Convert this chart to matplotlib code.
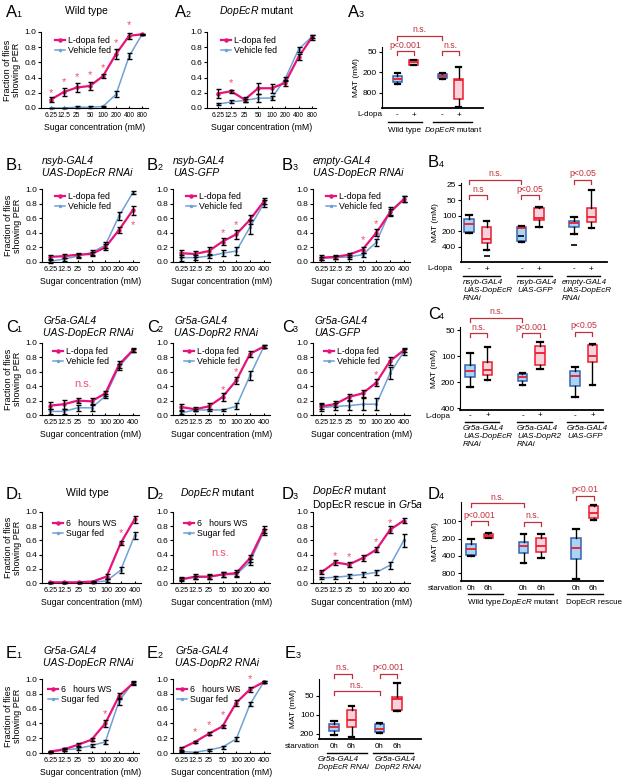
import numpy as np
import matplotlib
matplotlib.use("Agg")
import matplotlib.pyplot as plt
from matplotlib.transforms import Affine2D, blended_transform_factory
from matplotlib.ticker import NullLocator

plt.rcParams['font.family'] = ['Liberation Sans', 'DejaVu Sans']
plt.rcParams['mathtext.fontset'] = 'custom'
plt.rcParams['mathtext.rm'] = 'Liberation Sans'
plt.rcParams['mathtext.it'] = 'Liberation Sans:italic'

W, H = 626, 782
PINK = '#e8137a'
BLUE = '#6fa1d6'
STAR = '#f0506e'
ANN = '#c0303f'
BFILL, BEDGE = '#a9d4f3', '#3563b5'
RFILL, REDGE = '#f8d2dc', '#ec1c2c'

conc8 = ['6.25', '12.5', '25', '50', '100', '200', '400', '800']
conc7 = conc8[:7]
lab_ld = ['L-dopa fed', 'Vehicle fed']
lab_ws = ['6   hours WS', 'Sugar fed']

# ---- PER curves (mean, sem) ----
a1_p = [0.11, 0.21, 0.27, 0.29, 0.42, 0.71, 0.95, 0.97]
a1_pe = [0.03, 0.05, 0.06, 0.05, 0.03, 0.06, 0.04, 0.01]
a1_b = [0.00, 0.00, 0.01, 0.01, 0.02, 0.18, 0.68, 0.97]
a1_be = [0.00, 0.00, 0.01, 0.01, 0.01, 0.04, 0.04, 0.01]
a1_st = [(0, 0.20), (1, 0.34), (2, 0.41), (3, 0.43), (4, 0.53), (5, 0.86), (6, 1.09)]

a2_p = [0.19, 0.22, 0.11, 0.26, 0.26, 0.33, 0.67, 0.93]
a2_pe = [0.06, 0.02, 0.03, 0.07, 0.06, 0.04, 0.04, 0.03]
a2_b = [0.05, 0.08, 0.10, 0.13, 0.13, 0.38, 0.77, 0.94]
a2_be = [0.01, 0.02, 0.02, 0.05, 0.03, 0.03, 0.03, 0.02]
a2_st = [(1, 0.33)]

b1_p = [0.07, 0.08, 0.10, 0.11, 0.20, 0.44, 0.71]
b1_pe = [0.03, 0.03, 0.03, 0.03, 0.04, 0.04, 0.06]
b1_b = [0.01, 0.04, 0.08, 0.13, 0.23, 0.63, 0.95]
b1_be = [0.02, 0.02, 0.03, 0.03, 0.04, 0.06, 0.02]
b1_st = [(6, 0.50)]

b2_p = [0.12, 0.11, 0.15, 0.28, 0.38, 0.58, 0.83]
b2_pe = [0.05, 0.04, 0.05, 0.05, 0.06, 0.06, 0.04]
b2_b = [0.06, 0.06, 0.08, 0.12, 0.15, 0.48, 0.80]
b2_be = [0.04, 0.03, 0.03, 0.04, 0.05, 0.10, 0.05]
b2_st = [(3, 0.40), (4, 0.50)]

b3_p = [0.06, 0.07, 0.10, 0.17, 0.40, 0.68, 0.86]
b3_pe = [0.03, 0.03, 0.03, 0.04, 0.05, 0.05, 0.04]
b3_b = [0.05, 0.06, 0.07, 0.10, 0.27, 0.70, 0.86]
b3_be = [0.02, 0.02, 0.03, 0.03, 0.05, 0.05, 0.04]
b3_st = [(3, 0.30), (4, 0.52)]

c1_p = [0.13, 0.15, 0.20, 0.19, 0.30, 0.70, 0.90]
c1_pe = [0.05, 0.06, 0.04, 0.04, 0.04, 0.05, 0.03]
c1_b = [0.05, 0.05, 0.10, 0.10, 0.26, 0.67, 0.89]
c1_be = [0.04, 0.04, 0.04, 0.04, 0.03, 0.04, 0.02]

c2_p = [0.11, 0.08, 0.12, 0.25, 0.48, 0.85, 0.95]
c2_pe = [0.04, 0.03, 0.04, 0.05, 0.05, 0.04, 0.02]
c2_b = [0.03, 0.07, 0.07, 0.07, 0.12, 0.55, 0.95]
c2_be = [0.02, 0.02, 0.02, 0.02, 0.04, 0.06, 0.02]
c2_st = [(3, 0.35), (4, 0.60)]

c3_p = [0.12, 0.15, 0.25, 0.30, 0.45, 0.75, 0.90]
c3_pe = [0.04, 0.04, 0.04, 0.05, 0.05, 0.05, 0.03]
c3_b = [0.10, 0.12, 0.13, 0.15, 0.15, 0.58, 0.88]
c3_be = [0.05, 0.05, 0.06, 0.08, 0.08, 0.08, 0.04]
c3_st = [(4, 0.55)]

d1_p = [0.01, 0.01, 0.01, 0.02, 0.09, 0.56, 0.90]
d1_pe = [0.01, 0.01, 0.01, 0.01, 0.03, 0.03, 0.05]
d1_b = [0.00, 0.00, 0.00, 0.01, 0.03, 0.18, 0.67]
d1_be = [0.00, 0.00, 0.00, 0.01, 0.02, 0.04, 0.05]
d1_st = [(5, 0.70)]

d2_p = [0.05, 0.09, 0.09, 0.12, 0.14, 0.35, 0.75]
d2_pe = [0.02, 0.03, 0.03, 0.04, 0.04, 0.05, 0.05]
d2_b = [0.06, 0.08, 0.08, 0.12, 0.12, 0.30, 0.72]
d2_be = [0.02, 0.02, 0.03, 0.03, 0.03, 0.04, 0.04]

d3_p = [0.15, 0.29, 0.26, 0.35, 0.47, 0.75, 0.88]
d3_pe = [0.03, 0.03, 0.04, 0.04, 0.04, 0.05, 0.04]
d3_b = [0.07, 0.08, 0.10, 0.12, 0.15, 0.25, 0.60]
d3_be = [0.02, 0.02, 0.03, 0.03, 0.04, 0.05, 0.09]
d3_st = [(1, 0.38), (2, 0.37), (4, 0.57), (5, 0.85)]

e1_p = [0.02, 0.05, 0.11, 0.18, 0.40, 0.77, 0.94]
e1_pe = [0.01, 0.02, 0.02, 0.02, 0.05, 0.04, 0.02]
e1_b = [0.01, 0.04, 0.06, 0.10, 0.15, 0.70, 0.95]
e1_be = [0.01, 0.01, 0.02, 0.02, 0.03, 0.05, 0.02]
e1_st = [(4, 0.53)]

e2_p = [0.06, 0.15, 0.26, 0.36, 0.68, 0.86, 0.96]
e2_pe = [0.02, 0.01, 0.02, 0.02, 0.04, 0.03, 0.01]
e2_b = [0.02, 0.01, 0.04, 0.08, 0.19, 0.66, 0.96]
e2_be = [0.01, 0.01, 0.01, 0.02, 0.03, 0.03, 0.01]
e2_st = [(1, 0.28), (2, 0.38), (3, 0.51), (4, 0.82), (5, 1.00)]

# ---- MAT box stats: whislo, q1, med, q3, whishi ----
a3_box = [[211, 254, 311, 371, 435], [84, 86, 98, 120, 122],
          [203, 221, 254, 296, 316], [135, 311, 340, 1196, 2020]]
b4_box = [[96, 116, 143, 204, 215], [124, 165, 282, 339, 460], [157, 165, 170, 305, 316],
          [66, 70, 108, 120, 161], [106, 124, 138, 161, 222], [32, 69, 103, 132, 174]]
b4_fl = [[], [598], [245], [], [365], []]
c4_box = [[92, 125, 149, 174, 226], [79, 116, 143, 166, 190], [156, 163, 176, 195, 217],
          [69, 76, 92, 125, 139], [133, 149, 170, 222, 295], [73, 75, 100, 118, 217]]
d4_box = [[206, 252, 306, 384, 400], [163, 170, 179, 195, 199], [169, 232, 270, 351, 534],
          [169, 199, 270, 346, 439], [137, 199, 295, 456, 1000], [53, 55, 72, 90, 96]]
e3_box = [[124, 140, 157, 177, 208], [71, 85, 120, 157, 221],
          [136, 139, 169, 188, 190], [31, 52, 56, 83, 88]]

fig = plt.figure(figsize=(W / 100, H / 100), dpi=100)
PIX = Affine2D().scale(1 / W, -1 / H).translate(0, 1) + fig.transFigure
FS = 5.8   # small annotation text
TFS = 7.5  # panel titles


def add_ax(l, t, r, b):
    return fig.add_axes([l / W, 1 - b / H, (r - l) / W, (b - t) / H])


def ftext(x, y, s, **kw):
    kw.setdefault('fontsize', 7)
    fig.text(x / W, 1 - y / H, s, **kw)


def hline(x0, x1, y):
    fig.add_artist(plt.Line2D([x0 / W, x1 / W], [1 - y / H, 1 - y / H], color='k', lw=1.0))


def plabel(x, y, letter, num):
    ftext(x, y, letter, fontsize=12, va='baseline')
    ftext(x + 10.5, y, num, fontsize=6.5, va='baseline')


def line_panel(rect, xt, p, pe, b, be, names=None, stars=(), ylab=False, leg=(0.1, 0.96)):
    ax = add_ax(*rect)
    x = np.arange(len(xt))
    lb, = ax.plot(x, b, color=BLUE, lw=1.1, marker='o', ms=1.5, zorder=2, clip_on=False)
    lp, = ax.plot(x, p, color=PINK, lw=1.6, marker='o', ms=2.2, zorder=3, clip_on=False)
    for y, e in ((b, be), (p, pe)):
        ax.errorbar(x, y, yerr=e, fmt='none', ecolor='k', elinewidth=1.0,
                    capsize=1.8, capthick=1.0, zorder=4, clip_on=False)
    for i, s in stars:
        ax.text(i, s, '*', color=STAR, ha='center', va='center', fontsize=8, clip_on=False)
    if names:
        ax.legend([lp, lb], names, loc='upper left', bbox_to_anchor=leg, frameon=False,
                  fontsize=6.3, handlelength=1.2, handletextpad=0.3, labelspacing=0.1,
                  borderpad=0.1, borderaxespad=0)
    ax.set_xlim(-0.6, len(xt) - 0.55)
    ax.set_ylim(0, 1)
    ax.set_xticks(x)
    ax.set_xticklabels(xt)
    ax.set_yticks(np.arange(0, 1.01, 0.2))
    ax.set_yticklabels(['%.1f' % v for v in np.arange(0, 1.01, 0.2)])
    ax.tick_params(axis='x', labelsize=4.8 if len(xt) > 7 else 5.2, length=1.5,
                   direction='in', pad=3)
    ax.tick_params(axis='y', labelsize=6, length=2, pad=1.5)
    for s in ['top', 'right']:
        ax.spines[s].set_visible(False)
    ax.set_xlabel('Sugar concentration (mM)', fontsize=6.3, labelpad=3)
    if ylab:
        ax.set_ylabel('Fraction of flies\nshowing PER', fontsize=6.5, labelpad=2, linespacing=1.1)
    return ax


def box_panel(rect, pos, stats, xlim, ylim, yticks, fliers=None):
    ax = add_ax(*rect)
    if fliers is None:
        fliers = [[] for _ in stats]
    bs = [dict(whislo=s[0], q1=s[1], med=s[2], q3=s[3], whishi=s[4], fliers=f)
          for s, f in zip(stats, fliers)]
    art = ax.bxp(bs, positions=pos, widths=0.55, patch_artist=True, capwidths=0.3,
                 medianprops=dict(color=REDGE, lw=1.3),
                 whiskerprops=dict(color='k', lw=1.0), capprops=dict(color='k', lw=1.6),
                 flierprops=dict(marker='_', markeredgecolor='k', markersize=4, mew=1.2))
    for i, patch in enumerate(art['boxes']):
        if i % 2 == 0:
            patch.set(facecolor=BFILL, edgecolor=BEDGE, lw=1.1)
        else:
            patch.set(facecolor=RFILL, edgecolor=REDGE, lw=1.1)
    ax.set_yscale('log')
    ax.set_yticks(yticks)
    ax.set_yticklabels([str(v) for v in yticks])
    ax.yaxis.set_minor_locator(NullLocator())
    ax.set_ylim(*ylim)
    ax.set_xlim(*xlim)
    ax.set_xticks([])
    for s in ['top', 'right']:
        ax.spines[s].set_visible(False)
    ax.spines['bottom'].set_linewidth(1.3)
    ax.tick_params(axis='y', labelsize=6, length=2, pad=1.5)
    ax.set_ylabel('MAT (mM)', fontsize=6, labelpad=2)
    return ax


def bracket(ax, x0, x1, y, s, dy=3.5):
    tr = blended_transform_factory(ax.transData, PIX)
    ax.plot([x0, x0, x1, x1], [y + dy, y, y, y + dy], color=ANN, lw=0.9,
            transform=tr, clip_on=False)
    ax.text((x0 + x1) / 2, y - 1.5, s, transform=tr, ha='center', va='bottom',
            color=ANN, fontsize=6.3, clip_on=False)


def under(ax, xs, y, labels):
    tr = blended_transform_factory(ax.transData, PIX)
    for x, s in zip(xs, labels):
        ax.text(x, y, s, transform=tr, ha='center', va='center', fontsize=FS)


# ================= Row A =================
plabel(6, 17, 'A', '1')
ftext(86, 11, 'Wild type', fontsize=TFS, ha='center', va='center')
ax = line_panel((41, 32, 148, 108), conc8, a1_p, a1_pe, a1_b, a1_be, lab_ld, a1_st,
                ylab=True, leg=(0.12, 0.96))
ax.set_xlim(-0.75, 7.45)

plabel(175, 17, 'A', '2')
ftext(257, 11, r'$\mathit{DopEcR}$ mutant', fontsize=TFS, ha='center', va='center')
ax = line_panel((207, 32, 316, 108), conc8, a2_p, a2_pe, a2_b, a2_be, lab_ld, a2_st,
                leg=(0.12, 0.96))
ax.set_xlim(-0.8, 7.3)

plabel(348, 17, 'A', '3')
pos = [1, 2, 3.75, 4.75]
ax = box_panel((382, 47, 483, 108), pos, a3_box, (0.06, 6.25), (2200, 36), [50, 200, 800])
bracket(ax, pos[0], pos[1], 51, 'p<0.001')
bracket(ax, pos[2], pos[3], 51, 'n.s.')
bracket(ax, pos[0], pos[2], 36, 'n.s.')
ftext(357, 115, 'L-dopa', fontsize=FS, va='center')
under(ax, pos, 115, ['-', '+', '-', '+'])
hline(388, 422, 122)
hline(433, 472, 122)
ftext(405, 130, 'Wild type', fontsize=FS, ha='center', va='center')
ftext(453, 130, r'$\mathit{DopEcR}$ mutant', fontsize=FS, ha='center', va='center')

# ================= Row B =================
col_x = [42, 173, 313]
lab_x = [6, 147, 282]
titles_b = ['nsyb-GAL4\nUAS-DopEcR RNAi', 'nsyb-GAL4\nUAS-GFP', 'empty-GAL4\nUAS-DopEcR RNAi']
for k in range(3):
    plabel(lab_x[k], 170, 'B', str(k + 1))
    ftext(col_x[k], 167, titles_b[k], fontsize=TFS, style='italic', va='center', linespacing=1.15)
line_panel((42, 189, 139, 262), conc7, b1_p, b1_pe, b1_b, b1_be, lab_ld, b1_st, ylab=True,
           leg=(0.12, 0.97))
line_panel((173, 189, 270, 262), conc7, b2_p, b2_pe, b2_b, b2_be, lab_ld, b2_st, leg=(0.12, 0.97))
line_panel((313, 189, 410, 262), conc7, b3_p, b3_pe, b3_b, b3_be, lab_ld, b3_st, leg=(0.12, 0.97))

plabel(428, 167, 'B', '4')
pos6 = [1, 2, 4, 5, 7, 8]
ax = box_panel((461, 183, 607, 262), pos6, b4_box, (0.54, 8.89), (785, 23),
               [25, 50, 100, 200, 400], b4_fl)
bracket(ax, pos6[0], pos6[2], 180, 'n.s.')
bracket(ax, pos6[0], pos6[1], 195, 'n.s')
bracket(ax, pos6[2], pos6[3], 195, 'p<0.05')
bracket(ax, pos6[4], pos6[5], 180, 'p<0.05')
ftext(427, 269, 'L-dopa', fontsize=FS, va='center')
under(ax, pos6, 269, ['-', '+'] * 3)
for x0, x1 in [(463, 500), (517, 552), (567, 600)]:
    hline(x0, x1, 276)
for x0, s in zip([463, 517, 562], ['nsyb-GAL4\nUAS-DopEcR\nRNAi', 'nsyb-GAL4\nUAS-GFP',
                                    'empty-GAL4\nUAS-DopEcR\nRNAi']):
    ftext(x0, 279, s, fontsize=FS, style='italic', va='top', linespacing=1.15)

# ================= Row C =================
titles_c = ['Gr5a-GAL4\nUAS-DopEcR RNAi', 'Gr5a-GAL4\nUAS-DopR2 RNAi', 'Gr5a-GAL4\nUAS-GFP']
for k in range(3):
    plabel(lab_x[k], 332, 'C', str(k + 1))
    ftext(col_x[k] + 1, 327, titles_c[k], fontsize=TFS, style='italic', va='center', linespacing=1.15)
ax = line_panel((42, 343, 139, 415), conc7, c1_p, c1_pe, c1_b, c1_be, lab_ld, ylab=True)
ax.text(2.4, 0.43, 'n.s.', color=STAR, fontsize=8, ha='center', va='center')
line_panel((173, 343, 270, 415), conc7, c2_p, c2_pe, c2_b, c2_be, lab_ld, c2_st)
line_panel((313, 343, 410, 415), conc7, c3_p, c3_pe, c3_b, c3_be, lab_ld, c3_st)

plabel(428, 319, 'C', '4')
ax = box_panel((460, 327, 603, 410), pos6, c4_box, (0.43, 8.6), (420, 46), [50, 100, 200, 400])
bracket(ax, pos6[0], pos6[2], 318, 'n.s.')
bracket(ax, pos6[0], pos6[1], 333, 'n.s.')
bracket(ax, pos6[2], pos6[3], 333, 'p<0.001')
bracket(ax, pos6[4], pos6[5], 332, 'p<0.05')
ftext(425, 416, 'L-dopa', fontsize=FS, va='center')
under(ax, pos6, 416, ['-', '+'] * 3)
for x0, x1 in [(465, 499), (517, 552), (567, 603)]:
    hline(x0, x1, 422)
for x0, s in zip([463, 517, 567], ['Gr5a-GAL4\nUAS-DopEcR\nRNAi', 'Gr5a-GAL4\nUAS-DopR2\nRNAi',
                                    'Gr5a-GAL4\nUAS-GFP']):
    ftext(x0, 425, s, fontsize=FS, style='italic', va='top', linespacing=1.15)

# ================= Row D =================
plabel(6, 499, 'D', '1')
ftext(87, 493, 'Wild type', fontsize=TFS, ha='center', va='center')
plabel(147, 499, 'D', '2')
ftext(180, 493, r'$\mathit{DopEcR}$ mutant', fontsize=TFS, va='center')
plabel(282, 499, 'D', '3')
ftext(312, 491, r'$\mathit{DopEcR}$ mutant', fontsize=TFS, va='center')
ftext(312, 504.5, r'DopEcR rescue in $\mathit{Gr5a}$', fontsize=TFS, va='center')
line_panel((42, 512, 141, 583), conc7, d1_p, d1_pe, d1_b, d1_be, lab_ws, d1_st, ylab=True,
           leg=(0.1, 0.91))
ax = line_panel((173, 512, 270, 583), conc7, d2_p, d2_pe, d2_b, d2_be, lab_ws, leg=(0.1, 0.91))
ax.text(2.8, 0.42, 'n.s.', color=STAR, fontsize=8, ha='center', va='center')
line_panel((313, 512, 410, 583), conc7, d3_p, d3_pe, d3_b, d3_be, None, d3_st)

plabel(428, 499, 'D', '4')
ax = box_panel((461, 502, 603, 581), pos6, d4_box, (0.43, 8.54), (1078, 47), [100, 200, 400, 800])
bracket(ax, pos6[0], pos6[2], 503, 'n.s.')
bracket(ax, pos6[0], pos6[1], 521, 'p<0.001')
bracket(ax, pos6[2], pos6[3], 522, 'n.s.')
bracket(ax, pos6[4], pos6[5], 496, 'p<0.01')
ftext(428, 588, 'starvation', fontsize=FS, va='center')
under(ax, pos6, 588, ['0h', '6h'] * 3)
for x0, x1 in [(468, 503), (518, 553), (567, 603)]:
    hline(x0, x1, 594)
ftext(485, 602, 'Wild type', fontsize=FS, ha='center', va='center')
ftext(530, 602, r'$\mathit{DopEcR}$ mutant', fontsize=FS, ha='center', va='center')
ftext(594, 602, 'DopEcR rescue', fontsize=FS, ha='center', va='center')

# ================= Row E =================
plabel(6, 658, 'E', '1')
ftext(43, 657, titles_c[0], fontsize=TFS, style='italic', va='center', linespacing=1.15)
plabel(147, 658, 'E', '2')
ftext(175, 657, titles_c[1], fontsize=TFS, style='italic', va='center', linespacing=1.15)
line_panel((42, 679, 139, 753), conc7, e1_p, e1_pe, e1_b, e1_be, lab_ws, e1_st, ylab=True,
           leg=(0.05, 0.93))
line_panel((173, 679, 270, 753), conc7, e2_p, e2_pe, e2_b, e2_be, lab_ws, e2_st, leg=(0.03, 0.93))

plabel(285, 658, 'E', '3')
pos4 = [1, 2, 3.6, 4.6]
ax = box_panel((319, 679, 421, 739), pos4, e3_box, (0.14, 5.97), (240, 27), [50, 100, 200])
bracket(ax, pos4[0], pos4[1], 674, 'n.s.')
bracket(ax, pos4[2], pos4[3], 674, 'p<0.001')
bracket(ax, pos4[0], pos4[2], 691, 'n.s.')
ftext(285, 747, 'starvation', fontsize=FS, va='center')
under(ax, pos4, 747, ['0h', '6h'] * 2)
hline(327, 367, 753)
hline(373, 413, 753)
ftext(318, 756, 'Gr5a-GAL4\nDopEcR RNAi', fontsize=FS, style='italic', va='top', linespacing=1.15)
ftext(375, 756, 'Gr5a-GAL4\nDopR2 RNAi', fontsize=FS, style='italic', va='top', linespacing=1.15)

fig.savefig('out.png', dpi=100)
